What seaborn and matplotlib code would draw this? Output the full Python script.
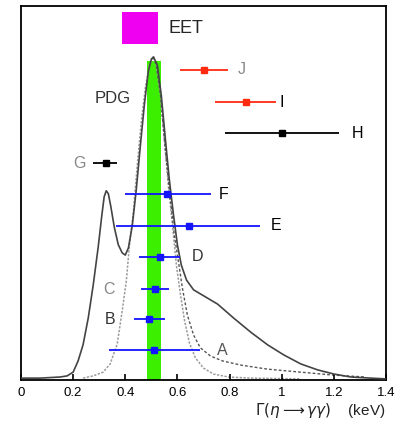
import numpy as np
import pandas as pd
import matplotlib
matplotlib.use("Agg")
import matplotlib.pyplot as plt
import seaborn as sns

# === Curvas ===
solid_x = [0.0, 0.073, 0.15, 0.177, 0.2, 0.219, 0.238, 0.258, 0.277, 0.296, 0.31, 0.319,
           0.327, 0.335, 0.344, 0.358, 0.373, 0.388, 0.4, 0.412, 0.427, 0.442, 0.458, 0.473,
           0.488, 0.5, 0.508, 0.523, 0.538, 0.554, 0.569, 0.585, 0.6, 0.615, 0.635, 0.662,
           0.708, 0.754, 0.815, 0.881, 0.946, 1.008, 1.073, 1.138, 1.2, 1.265, 1.342, 1.4]
solid_y = [0.5, 0.5, 0.8, 1.1, 2.1, 5.1, 9.4, 16.6, 25.4, 35.5, 44.0, 49.0,
           50.6, 49.8, 46.6, 40.8, 36.2, 34.0, 33.4, 35.3, 41.4, 50.8, 62.8, 73.5,
           82.4, 85.8, 86.4, 84.2, 76.2, 64.2, 53.5, 44.1, 36.1, 30.7, 26.7, 24.1,
           22.2, 20.3, 16.6, 12.8, 9.4, 6.7, 4.3, 2.7, 1.6, 0.8, 0.5, 0.3]

dotted_x = [0.238, 0.277, 0.315, 0.342, 0.369, 0.388, 0.404, 0.415, 0.431, 0.446, 0.462,
            0.477, 0.492, 0.508, 0.519, 0.535, 0.55, 0.565, 0.581, 0.596, 0.612, 0.627,
            0.646, 0.669, 0.7, 0.738, 0.796, 0.881, 1.073]
dotted_y = [0.5, 1.1, 2.1, 4.3, 9.6, 18.4, 26.5, 35.3, 44.9, 57.5, 69.5,
            78.1, 84.2, 86.4, 84.2, 76.2, 64.2, 52.1, 41.4, 30.7, 22.7, 16.0,
            9.9, 5.9, 3.2, 1.6, 0.8, 0.5, 0.3]

dashed_x = [0.508, 0.519, 0.535, 0.55, 0.569, 0.588, 0.604, 0.619, 0.638, 0.662, 0.688,
            0.727, 0.773, 0.842, 0.946, 1.073, 1.2, 1.323]
dashed_y = [86.4, 84.2, 76.2, 64.2, 50.8, 38.8, 31.6, 24.6, 17.4, 12.0, 8.6,
            6.4, 5.1, 4.0, 2.9, 2.1, 1.3, 0.8]

# === Medidas com barras de erro ===
labels = ["J", "I", "H", "G", "F", "E", "D", "C", "B", "A"]
centers = [0.70, 0.862, 1.003, 0.325, 0.56, 0.644, 0.532, 0.515, 0.492, 0.512]
lows = [0.608, 0.746, 0.781, 0.278, 0.398, 0.363, 0.452, 0.462, 0.435, 0.338]
highs = [0.795, 0.977, 1.22, 0.37, 0.727, 0.917, 0.61, 0.568, 0.554, 0.685]
rows = [82.9, 74.3, 66.0, 58.0, 49.7, 41.2, 32.9, 24.3, 16.3, 8.0]
colors = ["#ff2a10", "#ff2a10", "black", "black", "#1414ff", "#1414ff",
          "#1414ff", "#1414ff", "#1414ff", "#1414ff"]
label_x = [0.83, 0.99, 1.27, 0.20, 0.758, 0.958, 0.656, 0.315, 0.323, 0.752]
label_colors = ["#888888", "black", "black", "#888888", "black", "black",
                "#333333", "#888888", "#333333", "#555555"]
tick_vals = [0, 0.2, 0.4, 0.6, 0.8, 1, 1.2, 1.4]
tick_text = ["0", "0.2", "0.4", "0.6", "0.8", "1", "1.2", "1.4"]

# Banda do PDG (verde) e EET (magenta)
pdg_band = (0.485, 0.538, 85.3)
eet_box = (0.388, 0.527, 89.8, 98.4)

sns.set_theme(style="ticks")
plt.rcParams["font.family"] = ["Liberation Sans", "DejaVu Sans"]

fig = plt.figure(figsize=(4.03, 4.24), dpi=100)
ax = fig.add_axes([21 / 403, 44 / 424, 365 / 403, 374 / 424])

ax.fill_between([pdg_band[0], pdg_band[1]], 0, pdg_band[2], color="#3cee00", lw=0, zorder=1)
ax.fill_between([eet_box[0], eet_box[1]], eet_box[2], eet_box[3], color="#f000f0", lw=0, zorder=1)
ax.text(0.565, 94.1, "EET", fontsize=13, va="center", ha="left")

df_s = pd.DataFrame({"x": solid_x, "y": solid_y})
df_d = pd.DataFrame({"x": dotted_x, "y": dotted_y})
df_a = pd.DataFrame({"x": dashed_x, "y": dashed_y})
sns.lineplot(data=df_d, x="x", y="y", ax=ax, sort=False, estimator=None,
             color="#9a9a9a", lw=1.1, linestyle=(0, (1.5, 1)), zorder=2)
sns.lineplot(data=df_a, x="x", y="y", ax=ax, sort=False, estimator=None,
             color="#555555", lw=1.0, linestyle=(0, (2, 1.5)), zorder=2)
sns.lineplot(data=df_s, x="x", y="y", ax=ax, sort=False, estimator=None,
             color="#444444", lw=1.2, zorder=3)

for lab, c, lo, hi, r, col, lx, lc in zip(labels, centers, lows, highs, rows,
                                           colors, label_x, label_colors):
    ax.errorbar(c, r, xerr=[[c - lo], [hi - c]], fmt="s", color=col, ms=4,
                elinewidth=1.3, capsize=0, zorder=4)
    ax.text(lx, r, lab, fontsize=11.5, color=lc, va="center", ha="left")

ax.text(0.282, 75.4, "PDG", fontsize=12, color="#333333", va="center", ha="left")

ax.set_xlim(0, 1.4)
ax.set_ylim(0, 100)
ax.set_xlabel("")
ax.set_ylabel("")
ax.set_xticks(tick_vals)
ax.set_xticklabels(tick_text)
ax.set_yticks([])
ax.set_axisbelow(False)
ax.tick_params(axis="x", direction="in", length=4.5, width=1.2, pad=5,
               labelsize=9.5, color="black", labelcolor="black", bottom=True)
for s in ax.spines.values():
    s.set_color("black")
    s.set_linewidth(1.3)

fig.text(385 / 403, 14 / 424, r"$\Gamma(\eta \longrightarrow \gamma\gamma)$    (keV)",
         fontsize=11, ha="right", va="center", color="#222222")

fig.savefig("out.png", dpi=100)
